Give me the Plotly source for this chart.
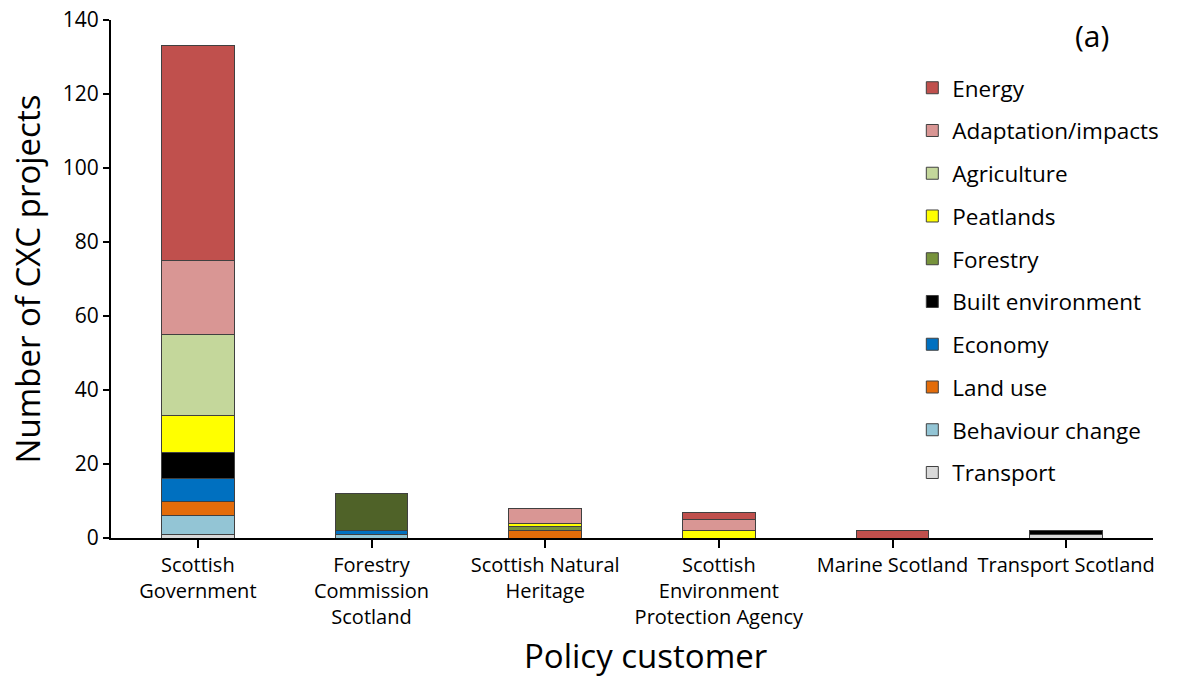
import plotly.graph_objects as go

categories = ["Scottish<br>Government", "Forestry<br>Commission<br>Scotland",
              "Scottish Natural<br>Heritage", "Scottish<br>Environment<br>Protection Agency",
              "Marine Scotland", "Transport Scotland"]

transport = [1, 0, 0, 0, 0, 1]
behaviour = [5, 1, 0, 0, 0, 0]
land_use = [4, 0, 2, 0, 0, 0]
economy = [6, 1, 0, 0, 0, 0]
built_env = [7, 0, 0, 0, 0, 1]
forestry = [0, 10, 1, 0, 0, 0]
peatlands = [10, 0, 1, 2, 0, 0]
agriculture = [22, 0, 0, 0, 0, 0]
adaptation = [20, 0, 4, 3, 0, 0]
energy = [58, 0, 0, 2, 2, 0]

series = [
    ("Transport", transport, "#D9D9D9"),
    ("Behaviour change", behaviour, "#93C5D5"),
    ("Land use", land_use, "#E36C0A"),
    ("Economy", economy, "#0070C0"),
    ("Built environment", built_env, "#000000"),
    ("Forestry", forestry, ["#77933C", "#4F6228", "#77933C", "#77933C", "#77933C", "#77933C"]),
    ("Peatlands", peatlands, "#FFFF00"),
    ("Agriculture", agriculture, "#C4D79B"),
    ("Adaptation/impacts", adaptation, "#D99694"),
    ("Energy", energy, "#C0504D"),
]

FONT = "Open Sans"
fig = go.Figure()
for i, (name, vals, color) in enumerate(series):
    fig.add_trace(go.Bar(
        x=list(range(len(categories))),
        y=[v if v else None for v in vals],
        name=name,
        legendgroup=name,
        legendrank=1000 - i,
        marker=dict(color=color, line=dict(color="#404040", width=1)),
        width=0.42,
    ))

fig.update_layout(
    barmode="stack",
    width=1180, height=678,
    margin=dict(l=111, r=27, t=20, b=140),
    plot_bgcolor="white", paper_bgcolor="white",
    font=dict(family=FONT, color="black"),
    showlegend=True,
    legend=dict(
        x=0.769, y=0.91, xanchor="left", yanchor="top",
        traceorder="grouped", tracegroupgap=10.5,
        font=dict(size=22.5, family=FONT),
        bgcolor="rgba(0,0,0,0)",
    ),
    xaxis=dict(
        tickmode="array", tickvals=list(range(len(categories))), ticktext=categories,
        range=[-0.5, len(categories) - 0.5],
        showline=True, linecolor="black", linewidth=2,
        ticks="outside", ticklen=8, tickwidth=2, tickcolor="black",
        tickfont=dict(size=20, family=FONT),
        showgrid=False, zeroline=False, automargin=False,
    ),
    yaxis=dict(
        range=[0, 140], dtick=20,
        showline=True, linecolor="black", linewidth=2,
        ticks="outside", ticklen=6, tickwidth=2, tickcolor="black",
        tickfont=dict(size=21, family=FONT),
        title=dict(text="Number of CXC projects", font=dict(size=33, family=FONT), standoff=12),
        showgrid=False, zeroline=False, automargin=False,
    ),
    annotations=[
        dict(text="(a)", x=0.941, y=0.97, xref="paper", yref="paper",
             xanchor="center", yanchor="middle", showarrow=False,
             font=dict(size=30, family=FONT)),
        dict(text="Policy customer", x=0.5125, y=-0.226, xref="paper", yref="paper",
             xanchor="center", yanchor="middle", showarrow=False,
             font=dict(size=33, family=FONT)),
    ],
)
fig.update_xaxes(tickson="boundaries")

fig.write_html("out.html")
